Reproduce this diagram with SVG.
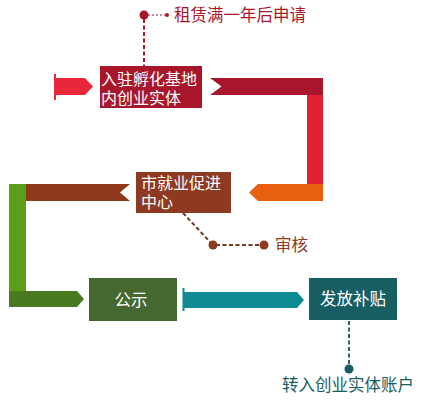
<svg xmlns="http://www.w3.org/2000/svg" width="422" height="402" viewBox="0 0 422 402">
<style>
text{font-family:"Liberation Sans","Noto Sans CJK SC","Noto Sans CJK JP",sans-serif;font-size:16.5px}
.w{fill:#ffffff}
.n{font-size:16px}
.dash{fill:none;stroke-width:2;stroke-dasharray:4 2.5}
</style>
<rect width="422" height="402" fill="#ffffff"/>
<g id="connectors">
<rect x="54" y="74" width="2" height="26" fill="#e8283a"/>
<polygon points="55,78 85,78 93,86.5 85,95 55,95" fill="#e8283a"/>
<polygon points="210,78 323,78 323,95 210,95 221.5,86.5" fill="#a8162b"/>
<rect x="307" y="95" width="16" height="89" fill="#e3202f"/>
<polygon points="323,184 323,201 258,201 249,192.5 258,184" fill="#e8600f"/>
<polygon points="26,184 130,184 120,192.5 130,201 26,201" fill="#8e3a1b"/>
<rect x="9" y="184" width="17" height="107" fill="#5a9e1a"/>
<polygon points="9,291 77,291 84,299 77,307 9,307" fill="#4a7a20"/>
<rect x="182.5" y="288" width="2" height="23" fill="#0f8a93"/>
<polygon points="184,292 297,292 304,300 297,308 184,308" fill="#0f8a93"/>
<line x1="144" y1="19" x2="144" y2="66" class="dash" stroke="#a8162b"/>
<line x1="148" y1="15" x2="166" y2="15" stroke="#a8162b" stroke-width="1.2" stroke-dasharray="2 2"/>
<circle cx="144" cy="15" r="4.5" fill="#a8162b"/>
<circle cx="167" cy="15" r="2" fill="#a8162b"/>
<line x1="183" y1="213" x2="211" y2="243" class="dash" stroke="#6e3a22"/>
<line x1="216" y1="245" x2="262" y2="245" class="dash" stroke="#6e3a22" stroke-width="1.6"/>
<circle cx="213" cy="245" r="4.5" fill="#8e3a1b"/>
<circle cx="264" cy="245" r="4.5" fill="#8e3a1b"/>
<line x1="349" y1="321" x2="349" y2="365" class="dash" stroke="#3a5e60"/>
<circle cx="349" cy="369" r="4.5" fill="#175e63"/>
</g>
<g id="node1">
<rect x="100" y="66" width="102" height="42" fill="#a8162b"/>
<text class="w n" x="101" y="85">入驻孵化基地</text>
<text class="w n" x="101" y="104">内创业实体</text>
</g>
<g id="node2">
<rect x="136" y="172" width="95" height="41" fill="#8e3a22"/>
<text class="w n" x="141" y="189">市就业促进</text>
<text class="w n" x="141" y="208">中心</text>
</g>
<g id="node3">
<rect x="89" y="278" width="88" height="43" fill="#44682f"/>
<text x="131" y="306" class="w" text-anchor="middle" font-size="17">公示</text>
</g>
<g id="node4">
<rect x="309" y="278" width="88" height="42" fill="#175e63"/>
<text x="353" y="305" class="w" text-anchor="middle" font-size="17">发放补贴</text>
</g>
<g id="labels">
<text x="174" y="21" fill="#a8162b">租赁满一年后申请</text>
<text x="275" y="251" fill="#8e3a1b">审核</text>
<text x="282" y="391" fill="#175e63">转入创业实体账户</text>
</g>
</svg>
